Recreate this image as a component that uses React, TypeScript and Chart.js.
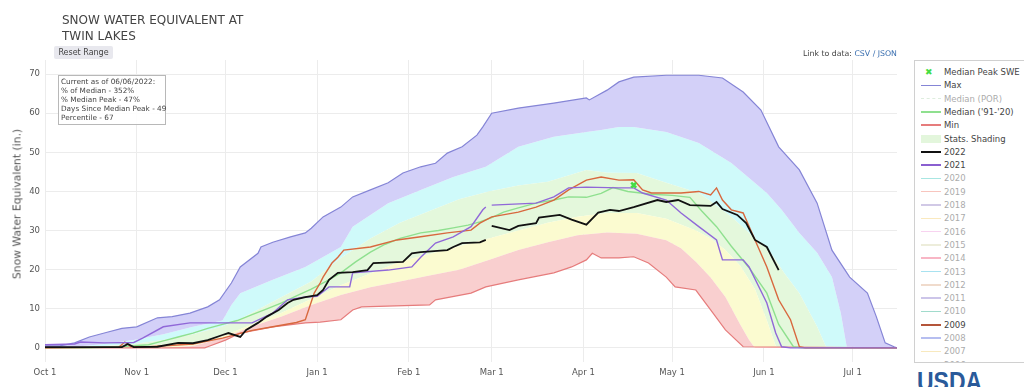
import React, { useEffect, useRef } from "react";
import { Chart, registerables } from "chart.js";
Chart.register(...registerables);

const FONT = "'DejaVu Sans', Verdana, sans-serif";

// x axis: days since Oct 1 of the water year
const monthTickDays = [0, 31, 61, 92, 123, 151, 182, 212, 243, 273];
const monthTickLabels = ["Oct 1", "Nov 1", "Dec 1", "Jan 1", "Feb 1", "Mar 1", "Apr 1", "May 1", "Jun 1", "Jul 1"];
const yTickValues = [0, 10, 20, 30, 40, 50, 60, 70];

// Max
const maxDays = [0, 5, 10, 15, 21, 26, 31, 38, 43, 49, 55, 59, 63, 66, 72, 73, 77, 83, 88, 90, 94, 100, 104, 110, 116, 121, 127, 132, 136, 141, 146, 148, 151, 160, 172, 183, 184, 190, 194, 199, 210, 221, 229, 236, 242, 248, 255, 261, 266, 272, 278, 281, 284, 287, 288];
const maxValues = [0.5, 0.5, 1.3, 2.8, 4, 5, 5.4, 7.7, 8, 8.9, 10.5, 12.3, 16.6, 20.7, 24.2, 25.8, 27, 28.4, 29.4, 30.6, 33.5, 36, 38.6, 40.4, 42.2, 44.7, 46.3, 47.2, 49.8, 51.4, 54.4, 56.5, 60, 61.3, 62.6, 63.9, 63.4, 65.9, 68, 69.2, 69.7, 69.7, 69, 65.4, 60.8, 51.4, 45.5, 37, 25, 18.1, 14, 8, 1.3, 0.3, 0];

// 90th percentile
const p90Days = [0, 10, 20, 30, 40, 50, 60, 63, 66, 77, 88, 100, 104, 116, 127, 138, 149, 160, 172, 183, 188, 194, 199, 210, 221, 232, 244, 249, 255, 261, 266, 269, 271, 288];
const p90Values = [0, 0.3, 1, 2, 3.5, 5.4, 7, 11, 14, 17.4, 20.7, 25.8, 31, 37, 40.4, 43.7, 46.3, 51.4, 54, 55.2, 55.7, 56.5, 56.5, 55.2, 52.4, 47.3, 39.6, 35.3, 29.4, 24.3, 18.1, 8.9, 0.3, 0];

// 70th percentile
const p70Days = [0, 10, 20, 30, 40, 50, 60, 65, 70, 80, 90, 100, 110, 120, 130, 140, 150, 160, 170, 183, 190, 200, 210, 221, 225, 232, 235, 240, 244, 250, 255, 261, 264, 288];
const p70Values = [0, 0.2, 0.5, 1, 2, 3.5, 5.5, 7, 9, 13, 17, 23, 28, 32, 35, 38, 40, 41.5, 42.5, 45.5, 44.8, 44.7, 42.2, 39.6, 37.5, 33.5, 31.5, 28, 25.8, 19, 14, 5.4, 0.3, 0];

// 30th percentile
const p30Days = [0, 30, 40, 50, 60, 65, 70, 80, 90, 100, 110, 120, 130, 140, 150, 160, 170, 180, 190, 200, 210, 220, 225, 230, 235, 240, 244, 247, 248, 288];
const p30Values = [0, 0.1, 0.3, 1, 3, 4.5, 6, 9, 12.5, 16, 19, 22, 24, 26, 28, 30, 32, 33.5, 34.5, 34.5, 33, 30, 28, 25, 21, 15, 7, 0.5, 0, 0];

// 10th percentile
const p10Days = [0, 40, 50, 60, 65, 70, 80, 90, 100, 110, 120, 130, 140, 150, 160, 170, 180, 190, 200, 210, 215, 220, 225, 230, 235, 238, 240, 288];
const p10Values = [0, 0, 0.5, 2.5, 4, 5.5, 8, 11, 13.5, 15.5, 17, 18.5, 20, 22.5, 25, 27, 28.8, 29.5, 29.2, 27.5, 25.5, 22, 18, 13, 6, 2, 0, 0];

// Min
const minDays = [0, 54, 55, 61, 66, 77, 88, 93, 100, 104, 107, 130, 132, 144, 149, 160, 172, 178, 183, 185, 188, 194, 199, 204, 210, 213, 220, 225, 230, 236, 288];
const minValues = [0, 0, 0.3, 2, 3.8, 5.4, 6.4, 6.6, 7.2, 9.7, 10.5, 11, 12.3, 14, 15.6, 17.4, 19.2, 20.7, 22.5, 24.2, 23, 23, 23.3, 21.7, 18.1, 15.6, 14.8, 9.7, 4.6, 0.3, 0];

// Median ('91-'20)
const medianDays = [0, 15, 25, 35, 40, 45, 50, 55, 60, 65, 70, 75, 80, 85, 90, 95, 100, 105, 110, 115, 120, 127, 133, 138, 143, 147, 151, 155, 160, 166, 172, 177, 183, 188, 192, 197, 205, 212, 218, 222, 227, 232, 238, 244, 248, 253, 256, 288];
const medianValues = [0, 0, 0.3, 0.8, 1.8, 2.8, 3.8, 5, 6, 7, 8.5, 10, 11.5, 13.3, 15, 17, 19.2, 22, 24.5, 26.5, 28, 29.4, 30, 30.7, 31.4, 32.2, 33.3, 34.7, 35.8, 37, 37.8, 38.6, 38.5, 39.5, 41, 40, 39.3, 39, 38.5, 35, 31, 26, 20.5, 14, 6, 0.3, 0, 0];

// Water year 2022 (gap at end of February)
const wy2022Days = [0, 26, 28, 30, 38, 45, 50, 55, 60, 62, 66, 68, 72, 75, 79, 82, 84, 88, 92, 94, 96, 99, 104, 109, 111, 121, 124, 127, 136, 138, 141, 147, 149, 150, 151, 157, 160, 166, 167, 174, 178, 183, 187, 191, 194, 199, 207, 210, 214, 218, 225, 227, 229, 234, 237, 240, 244, 248];
const wy2022Values = [0.2, 0.2, 1.0, 0.2, 0.3, 1.3, 1.2, 2, 3.3, 3.8, 2.8, 4.6, 6.4, 8, 9.7, 11.5, 12.3, 13, 13.5, 14.8, 17.4, 19.2, 19.4, 19.9, 21.7, 22, 24.2, 24.5, 25, 25.8, 26.8, 27, 27.6, null, 31.2, 30.1, 31.2, 31.9, 33.3, 34, 32.8, 31.5, 34.6, 35.3, 35, 36, 37.8, 37.3, 37.8, 36.5, 36.3, 37.3, 35.5, 34, 31.9, 27.6, 25.8, 19.9];

// Water year 2021
const wy2021Days = [0, 10, 12, 20, 30, 33, 40, 49, 70, 77, 82, 88, 92, 96, 103, 104, 116, 124, 127, 132, 138, 144, 148, 149, 150, 151, 166, 172, 177, 183, 194, 199, 202, 210, 215, 221, 227, 229, 236, 238, 244, 247, 249, 252, 288];
const wy2021Values = [0.8, 1, 1.5, 1.3, 1.4, 2.5, 5.4, 6.4, 6.4, 8.9, 12.3, 13, 13.2, 15.6, 15.6, 19.2, 19.9, 20.7, 23.2, 26.8, 28.4, 31, 35.3, 36, null, 36.5, 37, 38.6, 40.9, 41.1, 40.9, 40.9, 39.6, 37.8, 34.5, 31, 27.6, 22.5, 22.5, 20.7, 11.5, 3.8, 0.3, 0, 0];

// Water year 2009
const wy2009Days = [0, 25, 27, 29, 35, 50, 60, 70, 77, 85, 88, 91, 93, 94, 97, 99, 101, 110, 119, 127, 136, 144, 147, 151, 160, 166, 172, 177, 183, 188, 194, 199, 202, 205, 215, 221, 225, 227, 229, 232, 236, 240, 244, 248, 252, 255, 257, 288];
const wy2009Values = [0, 0.2, 1.5, 0.3, 0.3, 1, 2.5, 4.5, 5.4, 6.5, 7.2, 14, 16.6, 18.1, 21.7, 23.2, 25, 25.8, 27.6, 28.4, 29.4, 30.1, 31.9, 33.5, 34.7, 36, 37.8, 40.4, 42.9, 43.7, 42.9, 43, 40.4, 39.6, 39.6, 40, 39.1, 40.9, 37.8, 35.3, 34.5, 27.6, 20.7, 12.3, 7.2, 0.3, 0, 0];

const medianPeakDay = [199];
const medianPeakValue = [41.6];

// legend
const legendNames = ["Median Peak SWE", "Max", "Median (POR)", "Median ('91-'20)", "Min", "Stats. Shading", "2022", "2021", "2020", "2019", "2018", "2017", "2016", "2015", "2014", "2013", "2012", "2011", "2010", "2009", "2008", "2007", "2006"];
const legendColors = ["#44dd44", "#8585d6", "#b8d8b8", "#8fe08f", "#e67c7c", "#e3f6dc", "#111111", "#8a5fd0", "#40c8c0", "#f08070", "#9a88c8", "#f6d070", "#f0a0e0", "#d8d8b0", "#f06080", "#40c0e0", "#e0b090", "#9080d0", "#30b090", "#b4553a", "#6070e0", "#f0d070", "#c0a0a0"];
const legendShown = [true, true, false, true, true, true, true, true, false, false, false, false, false, false, false, false, false, false, false, true, false, false, false];

function pts(days: number[], vals: (number | null)[]) {
  return days.map((d, i) => ({ x: d, y: vals[i] }));
}

export default function App() {
  const ref = useRef<HTMLCanvasElement>(null);

  useEffect(() => {
    const band = (label: string, days: number[], vals: number[], fillColor: string, border: string, bw: number, fill: any, order: number) => ({
      type: "line" as const,
      label,
      data: pts(days, vals),
      borderColor: border,
      borderWidth: bw,
      backgroundColor: fillColor,
      fill,
      pointRadius: 0,
      tension: 0,
      order,
    });
    const line = (label: string, days: number[], vals: (number | null)[], color: string, width: number, order: number) => ({
      type: "line" as const,
      label,
      data: pts(days, vals),
      borderColor: color,
      borderWidth: width,
      fill: false,
      pointRadius: 0,
      tension: 0,
      spanGaps: false,
      order,
    });

    const chart = new Chart(ref.current!, {
      type: "line",
      data: {
        datasets: [
          band("Min", minDays, minValues, "rgba(0,0,0,0)", "#e67c7c", 1.2, false, 6),
          band("10%", p10Days, p10Values, "#f9cfcf", "rgba(0,0,0,0)", 0, "-1", 20),
          band("30%", p30Days, p30Values, "#fbfbd0", "rgba(0,0,0,0)", 0, "-1", 20),
          band("70%", p70Days, p70Values, "#e4f8dc", "rgba(0,0,0,0)", 0, "-1", 20),
          band("90%", p90Days, p90Values, "#cffafa", "rgba(0,0,0,0)", 0, "-1", 20),
          band("Max", maxDays, maxValues, "#d3d0f8", "#8585d6", 1.2, "-1", 6),
          line("Median ('91-'20)", medianDays, medianValues, "#8fe08f", 1.4, 5),
          line("2009", wy2009Days, wy2009Values, "#d8683e", 1.4, 4),
          line("2021", wy2021Days, wy2021Values, "#9068d8", 1.4, 3),
          line("2022", wy2022Days, wy2022Values, "#111111", 1.8, 1),
          {
            type: "scatter" as const,
            label: "Median Peak SWE",
            data: pts(medianPeakDay, medianPeakValue),
            pointStyle: "crossRot",
            pointRadius: 3.5,
            borderWidth: 2.5,
            borderColor: "#44dd44",
            backgroundColor: "#44dd44",
            order: 0,
          } as any,
        ],
      },
      options: {
        animation: false,
        responsive: false,
        maintainAspectRatio: false,
        layout: { padding: { top: 60, right: 8, left: 0, bottom: 0 } },
        plugins: { legend: { display: false }, tooltip: { enabled: false } },
        scales: {
          x: {
            type: "linear",
            min: 0,
            max: 288,
            afterBuildTicks: (s: any) => {
              s.ticks = monthTickDays.map((v) => ({ value: v }));
            },
            afterFit: (s: any) => {
              s.height = 25;
            },
            ticks: {
              autoSkip: false,
              maxRotation: 0,
              padding: 6,
              color: "#555",
              font: { family: FONT, size: 8.5 },
              callback: (v: any) => {
                const i = monthTickDays.indexOf(Number(v));
                return i >= 0 ? monthTickLabels[i] : "";
              },
            },
            grid: { color: "#ececec", drawTicks: false },
            border: { display: false },
          },
          y: {
            type: "linear",
            min: -3.6,
            max: 73.6,
            afterBuildTicks: (s: any) => {
              s.ticks = yTickValues.map((v) => ({ value: v }));
            },
            afterFit: (s: any) => {
              s.width = 45;
            },
            ticks: {
              padding: 5,
              color: "#555",
              font: { family: FONT, size: 8.5 },
            },
            grid: { color: "#ececec", drawTicks: false },
            border: { display: false },
          },
        },
      },
    });
    return () => chart.destroy();
  }, []);

  const rowH = 13.3;

  return (
    <div style={{ position: "absolute", left: 0, top: 0, width: 1024, height: 387, overflow: "hidden", background: "#fff", fontFamily: FONT }}>
      <canvas ref={ref} width={905} height={387} style={{ position: "absolute", left: 0, top: 0 }} />
      <div style={{ position: "absolute", left: 17, top: 204, width: 0, height: 0 }}>
        <div style={{ position: "absolute", left: 0, top: 0, transform: "translate(-50%, -50%) rotate(-90deg)", fontSize: 10.8, lineHeight: "13px", color: "#555", whiteSpace: "nowrap" }}>
          Snow Water Equivalent (in.)
        </div>
      </div>
      <div style={{ position: "absolute", left: 62, top: 12, fontSize: 12, lineHeight: "16px", color: "#444", whiteSpace: "nowrap" }}>
        SNOW WATER EQUIVALENT AT<br />TWIN LAKES
      </div>
      <div style={{ position: "absolute", left: 54, top: 46, width: 59, height: 13, background: "#e8e8ee", borderRadius: 2, fontSize: 8, lineHeight: "13px", color: "#444", textAlign: "center", whiteSpace: "nowrap" }}>
        Reset Range
      </div>
      <div style={{ position: "absolute", left: 803, top: 49, fontSize: 7.8, lineHeight: "10px", color: "#444", whiteSpace: "nowrap" }}>
        Link to data: <span style={{ color: "#3a6fb0" }}>CSV / JSON</span>
      </div>
      <div style={{ position: "absolute", left: 58, top: 75, width: 104, height: 46, border: "1px solid #b8b8b8", background: "rgba(255,255,255,0.9)", fontSize: 7.3, lineHeight: "8.9px", color: "#444", padding: "2px 0 0 2px", boxSizing: "content-box", whiteSpace: "nowrap" }}>
        Current as of 06/06/2022:<br />% of Median - 352%<br />% Median Peak - 47%<br />Days Since Median Peak - 49<br />Percentile - 67
      </div>
      <div style={{ position: "absolute", left: 914, top: 60, width: 130, height: 301, border: "1px solid #d0d0d0", background: "#fff", overflow: "hidden" }}>
        {legendNames.map((name, i) => {
          const cy = 11 + rowH * i;
          const c = legendColors[i];
          const op = legendShown[i] ? 1 : 0.45;
          let sym: React.ReactNode;
          if (i === 0) {
            sym = <div style={{ position: "absolute", left: 10, top: cy - 3, width: 6, height: 6, fontSize: 9, lineHeight: "6px", color: c, fontWeight: "bold" }}>✖</div>;
          } else if (name === "Stats. Shading") {
            sym = <div style={{ position: "absolute", left: 6, top: cy - 4, width: 20, height: 8, background: c }} />;
          } else if (name === "Median (POR)") {
            sym = <div style={{ position: "absolute", left: 6, top: cy - 1, width: 20, height: 0, borderTop: `1.5px dashed ${c}` }} />;
          } else {
            const w = name === "2022" || name === "2021" || name === "2009" ? 2 : 1.5;
            sym = <div style={{ position: "absolute", left: 6, top: cy - w / 2, width: 20, height: w, background: c }} />;
          }
          return (
            <div key={name} style={{ opacity: op }}>
              {sym}
              <div style={{ position: "absolute", left: 29, top: cy - 6, fontSize: 8.5, lineHeight: "12px", color: "#444", whiteSpace: "nowrap" }}>{name}</div>
            </div>
          );
        })}
      </div>
      <div style={{ position: "absolute", left: 917, top: 368, fontSize: 28, lineHeight: "28px", color: "#2a5a9a", fontFamily: "'Liberation Sans', sans-serif", fontWeight: "bold", transform: "scaleX(0.82)", transformOrigin: "left top" }}>
        USDA
      </div>
    </div>
  );
}
